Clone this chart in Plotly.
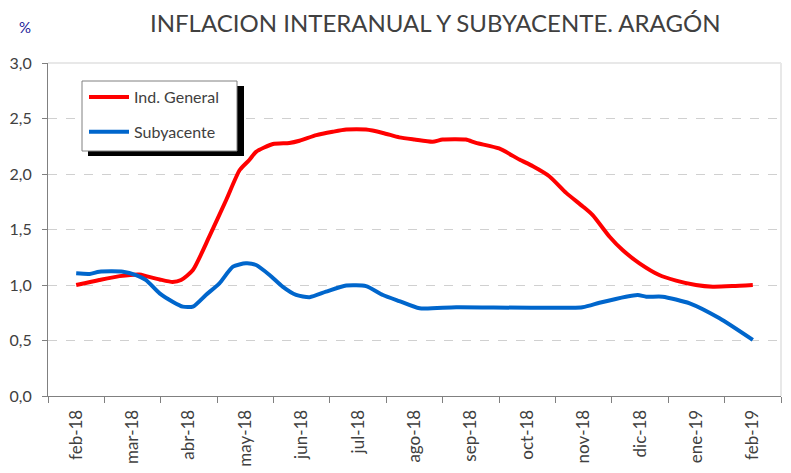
import plotly.graph_objects as go

months = ["feb-18", "mar-18", "abr-18", "may-18", "jun-18", "jul-18", "ago-18",
          "sep-18", "oct-18", "nov-18", "dic-18", "ene-19", "feb-19"]

# fractional month position (0 = feb-18) and value
gen_t = [0, 0.41, 0.77, 1.12, 1.24, 1.48, 1.71, 1.86, 2.07, 2.36, 2.66, 2.9, 3.07,
         3.19, 3.49, 3.78, 3.96, 4.26, 4.55, 4.79, 5.14, 5.44, 5.73, 6.0, 6.32, 6.5,
         6.91, 7.09, 7.5, 7.86, 8.1, 8.39, 8.69, 8.98, 9.16, 9.46, 9.69, 9.99,
         10.34, 10.64, 10.99, 11.29, 11.64, 12.0]
gen_v = [1.00, 1.045, 1.08, 1.095, 1.08, 1.05, 1.027, 1.045, 1.135, 1.435, 1.766, 2.036, 2.126,
         2.20, 2.27, 2.28, 2.30, 2.35, 2.38, 2.40, 2.40, 2.37, 2.33, 2.31, 2.29, 2.31,
         2.31, 2.28, 2.23, 2.13, 2.07, 1.98, 1.83, 1.71, 1.63, 1.435, 1.315, 1.195,
         1.09, 1.04, 1.00, 0.985, 0.99, 1.00]

sub_t = [0, 0.24, 0.41, 0.83, 1.06, 1.24, 1.48, 1.71, 1.89, 2.07, 2.30, 2.54, 2.78,
         3.01, 3.19, 3.43, 3.66, 3.9, 4.14, 4.43, 4.79, 5.14, 5.44, 5.73, 6.09, 6.74,
         8.98, 9.28, 9.75, 9.96, 10.11, 10.4, 10.88, 11.41, 12.0]
sub_v = [1.105, 1.10, 1.12, 1.12, 1.09, 1.045, 0.925, 0.85, 0.805, 0.805, 0.91, 1.015, 1.165,
         1.195, 1.18, 1.09, 0.985, 0.91, 0.89, 0.94, 0.995, 0.99, 0.91, 0.855, 0.79, 0.80,
         0.80, 0.84, 0.895, 0.91, 0.895, 0.895, 0.835, 0.70, 0.505]

fig = go.Figure()
fig.add_trace(go.Scatter(x=gen_t, y=gen_v, mode="lines", name="Ind. General",
                         legendgroup="g1",
                         line=dict(color="#ff0000", width=4, shape="spline", smoothing=0.6)))
fig.add_trace(go.Scatter(x=sub_t, y=sub_v, mode="lines", name="Subyacente",
                         legendgroup="g2",
                         line=dict(color="#0066cc", width=4, shape="spline", smoothing=0.6)))

# page has an 8px body margin; figure sized so the plot lands where the reference has it
OFF = 8
W, H = 791 - OFF, 473 - OFF
PX0, PX1, PY0, PY1 = 48, 781, 63, 396   # plot area in window pixels
L, T = PX0 - OFF, PY0 - OFF
R, B = (OFF + W) - PX1, (OFF + H) - PY1

def px(x):
    return (x - PX0) / (PX1 - PX0)
def py(y):
    return (PY1 - y) / (PY1 - PY0)

fig.update_layout(
    width=W, height=H,
    margin=dict(l=L, r=R, t=T, b=B, autoexpand=False),
    paper_bgcolor="white", plot_bgcolor="white",
    separators=",.",
    font=dict(family="Lato, 'Open Sans', sans-serif", color="#404040", size=14),
    showlegend=True,
    legend=dict(x=px(84), y=py(80), xanchor="left", yanchor="top",
                bgcolor="rgba(0,0,0,0)", borderwidth=0,
                font=dict(size=16, color="#404040"), itemwidth=40,
                traceorder="grouped", tracegroupgap=11),
    xaxis=dict(range=[-0.5, 12.5], tickmode="array", tickvals=list(range(13)),
               ticktext=months, tickangle=-90, ticks="", showgrid=False,
               showline=True, linecolor="#808080", linewidth=1,
               ticklabelstandoff=6,
               tickfont=dict(size=17, color="#404040"), zeroline=False,
               minor=dict(ticks="outside", tickmode="array",
                          tickvals=[i - 0.5 for i in range(14)],
                          ticklen=6, tickcolor="#808080", showgrid=False)),
    yaxis=dict(range=[0, 3], dtick=0.5, tickformat=".1f", showgrid=True,
               gridcolor="#d0d0d0", griddash="dash", gridwidth=1,
               showline=True, linecolor="#808080", linewidth=1,
               ticks="outside", ticklen=5, tickcolor="#808080",
               ticklabelstandoff=7,
               tickfont=dict(size=16, color="#404040"), zeroline=False),
)

# light border on top and right of plot area
fig.add_shape(type="line", xref="paper", yref="paper", x0=0, x1=1, y0=1, y1=1,
              line=dict(color="#e8e8e8", width=2))
fig.add_shape(type="line", xref="paper", yref="paper", x0=1, x1=1, y0=0, y1=1,
              line=dict(color="#e8e8e8", width=2))
# legend shadow and box
fig.add_shape(type="rect", xref="paper", yref="paper",
              x0=px(88), x1=px(244), y0=py(156), y1=py(86),
              fillcolor="black", line=dict(width=0), layer="above")
fig.add_shape(type="rect", xref="paper", yref="paper",
              x0=px(82), x1=px(237), y0=py(151), y1=py(81),
              fillcolor="white", line=dict(color="#808080", width=1), layer="above")

fig.add_annotation(text="INFLACION INTERANUAL Y SUBYACENTE. ARAGÓN",
                   xref="paper", yref="paper", x=px(435), y=py(22),
                   xanchor="center", yanchor="middle", showarrow=False,
                   font=dict(size=24, color="#404040"))
fig.add_annotation(text="%", xref="paper", yref="paper", x=px(25), y=py(27),
                   xanchor="center", yanchor="middle", showarrow=False,
                   font=dict(size=15, color="#1a1a99"))

fig.write_html("out.html")
